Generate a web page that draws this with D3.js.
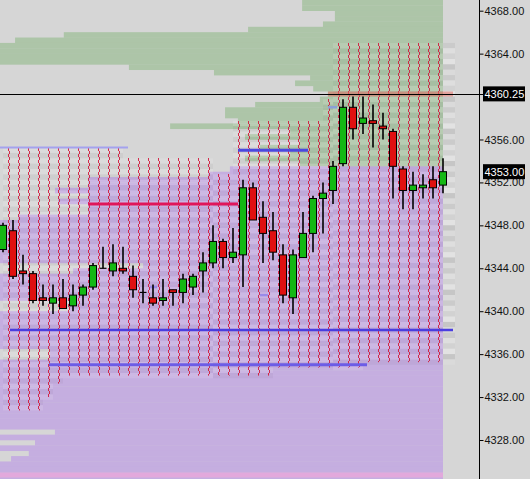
<!DOCTYPE html>
<html><head><meta charset="utf-8">
<script src="https://cdn.jsdelivr.net/npm/d3@7"></script>
<style>body{margin:0;background:#d6d6d6;}svg{display:block}</style>
</head><body><svg id="c" width="530" height="479"></svg>
<script>
// ---------- DATA ----------
const opens  = [4345.75,4347.5,4343.75,4343.5,4341.25,4340.75,4341.25,4340.5,4341.5,4342.25,4344,4343.75,4344,4343.25,4341.75,4341.25,4341,4342,4341.75,4342.25,4343.75,4344.5,4346.5,4345,4345.25,4351.5,4348.75,4347.5,4345.25,4341.25,4345,4347.25,4350.5,4351.25,4353.75,4359,4357.5,4357.75,4357.25,4356.75,4353.25,4351.25,4351.5,4352.25,4351.75];
const highs  = [4348.25,4348.5,4345.25,4343.75,4342.5,4342.5,4343,4342.5,4342.5,4344.5,4346,4346.25,4346,4344.25,4343,4342.5,4343,4342,4343.5,4343.5,4345.5,4348,4346.75,4347.75,4352.25,4352,4350.25,4349.25,4346.25,4345.75,4349.25,4350.75,4352,4354,4359.75,4360,4360,4359.25,4358.5,4357,4353.5,4353,4352.75,4353.5,4354.25];
const lows   = [4345.5,4343,4342.5,4340.75,4340.5,4339.75,4340.25,4340,4340.5,4342,4344,4343.25,4343.5,4341.25,4340.75,4340.5,4340.5,4340.5,4340.75,4341.5,4341.75,4344,4344,4344.5,4342.25,4348.5,4344.5,4344.75,4340.75,4339.75,4345,4345.5,4347.25,4350,4353.5,4356,4356.5,4355.25,4356,4350.5,4349.5,4349.5,4350.5,4350.5,4351];
const closes = [4348,4343.25,4343.5,4341,4341,4341.25,4340.25,4341.5,4342.25,4344.25,4344,4344.5,4343.75,4342,4341.75,4340.75,4341.25,4341.75,4343,4343.25,4344.5,4346.5,4345,4345.5,4351.5,4348.5,4347.25,4345.5,4341.5,4345.25,4347.25,4350.5,4351,4353.5,4359,4357,4358,4357.5,4357,4353.5,4351.25,4351.75,4351.75,4351.5,4353];

// TPO column ranges (one per period)
const tpoTop = [4355.25,4355.25,4355.25,4355.25,4355.25,4355.25,4355.25,4355.25,4355.25,4355.25,4355.25,4355.25,
  4354.25,4354.25,4354.25,4354.25,4354.25,4354.25,4354.25,4354.25,4354.25,4352.75,4352.75,
  4357.75,4357.75,4357.75,4357.75,4357.75,4357.75,4357.75,4357.75,4357.75,4359.75,
  4365,4365,4365,4365,4365,4365,4365,4365,4365,4365,4365];
const tpoBottom = [4330.75,4330.75,4330.75,4330.75,4332,4333.25,
  4334,4334,4334,4334,4334,4334,4334,4334,4334,4334,4334,4334,4334,4334,4334,4334,4334,4334,4334,4334,4334,
  4334.75,4334.75,4334.75,4334.75,4334.75,4334.75,4334.75,4334.75,4334.75,
  4335.25,4335.25,4335.25,4335.25,4335.25,4335.25,4335.25,4335.25];

// Volume profiles (rows of 0.5 point, from the top price downward)
const greenTop = 4369;
const greenVol = [31.8,31.8,24.4,24.4,27.1,44.0,85.6,96.6,105,105,105,105,70.9,51.7,30.0,33.4,29.3,26.0,27.8,42.4,49.2,49.2,46.3,61.6,34.5,44.7,32.3,41.3,34.5,44.7,32.3,25.5];
const purpleTop = 4353.5;
const purpleVol = [48.1,53.0,80.1,80.1,87.6,80.1,86.9,80.1,80.1,95.9,
  105,105,105,105,105,105,105,105, 67.7,83.5, 105,105,105,105,105, 84.2,84.2,
  105,105,105,105,105,105,105, 88.7,88.7,
  105,105,105,105,105,105,105,105,105,105,105,105,105,
  87.6,105,92.1,105,93.5,97.5,105,105,105,105,105];

// Level lines
const lvlPrice = [4355.25,4355,4350,4338.25,4335,4360.25,4359,4342.25,4341.5];
const lvlStart = [-0.4,23.5,8.5,0.7,4.6,32.5,32.5,14.7,25.7];
const lvlEnd   = [12.5,30.5,23.5,45,36.4,45,33.4,15.4,26.5];

const tickValues = [4328,4332,4336,4340,4344,4348,4352,4356,4364,4368];
const lastPrice = 4353.00;
const crossPrice = 4360.25;

// ---------- STYLES ----------
const lvlColor = ['#a4a2ee','#4b48e0','#e0165a','#4a3de0','#6c5ce6','rgba(225,110,100,0.55)','#8aa0d8','#9a8ae8','#9a8ae8'];
const lvlWidth = [2,3,3,2.5,3,5,2.5,2.5,2.5];
const FONT = 'Liberation Sans, Arial, sans-serif';

// ---------- CHART ----------
const svg = d3.select('#c');
const y = d3.scaleLinear().domain([4328, 4368]).range([440, 10.7]);
const x = d3.scaleLinear().domain([0, 44]).range([3, 443]);
const xVol = d3.scaleLinear().domain([0, 100]).range([0, 443]);
const profileRight = x(44);
const rowH = 0.5;

svg.append('rect').attr('width',530).attr('height',479).attr('fill','#d6d6d6');

function drawProfile(top, vols, color) {
  svg.append('g').selectAll('rect').data(vols).join('rect')
    .attr('x', v => profileRight - xVol(v))
    .attr('width', v => xVol(v))
    .attr('y', (v,i) => y(top - i*rowH))
    .attr('height', (v,i) => y(top - (i+1)*rowH) - y(top - i*rowH) + 0.3)
    .attr('fill', color);
}
drawProfile(greenTop, greenVol, '#adc5a8');
drawProfile(purpleTop, purpleVol, '#c5aee0');

// right narrow shaded profile
const shadeRows = d3.range(4365, 4335.25, -0.5);
svg.append('g').selectAll('rect').data(shadeRows).join('rect')
  .attr('x', profileRight).attr('width', x(45.2) - profileRight)
  .attr('y', p => y(p)).attr('height', p => y(p-0.5) - y(p))
  .attr('fill', (p,i) => ['#cbcbcb','#dedede','#d2d2d2','#e2e2e2','#c6c6c6','#dadada'][i%6]);

// TPO stripes and squiggles
const tpoG = svg.append('g');
tpoTop.forEach((t, k) => {
  const b = tpoBottom[k];
  const rows = d3.range(t, b, -0.5);
  tpoG.selectAll(null).data(rows).join('rect')
    .attr('x', x(k)).attr('width', x(k+1) - x(k))
    .attr('y', p => y(p)).attr('height', p => y(p-0.5) - y(p))
    .attr('fill', (p,i) => i%2 ? 'rgba(0,0,0,0.035)' : 'rgba(255,255,255,0.12)');
});
tpoTop.forEach((t, k) => {
  const b = tpoBottom[k];
  const cx = Math.round(x(k) + 5) + 0.5;
  const y0 = Math.round(y(t)), y1 = y(b);
  let d = '';
  let s = 0;
  for (let yy = y0; yy <= y1; yy += 3, s++) {
    const xx = cx + (s % 2);
    d += `M${xx},${yy}V${Math.min(yy + 3, y1)}`;
  }
  tpoG.append('path').attr('d', d)
    .attr('fill','none').attr('stroke','#d21a3c').attr('stroke-width',1).attr('opacity',0.9);
});

// level lines
svg.append('g').selectAll('line').data(lvlPrice).join('line')
  .attr('x1', (p,i) => x(lvlStart[i])).attr('x2', (p,i) => x(lvlEnd[i]))
  .attr('y1', p => y(p)).attr('y2', p => y(p))
  .attr('stroke', (p,i) => lvlColor[i]).attr('stroke-width', (p,i) => lvlWidth[i]);

// pink low line
svg.append('line').attr('x1', 0).attr('x2', profileRight)
  .attr('y1', y(4324.75)).attr('y2', y(4324.75))
  .attr('stroke', '#e2a9dc').attr('stroke-width', 5);

// candles
const cg = svg.append('g');
opens.forEach((o, i) => {
  const c = closes[i], cx = x(i);
  cg.append('line').attr('x1',cx).attr('x2',cx).attr('y1',y(highs[i])).attr('y2',y(lows[i]))
    .attr('stroke','#000').attr('stroke-width',1.6);
  const top = y(Math.max(o,c)), bot = y(Math.min(o,c));
  if (o === c) {
    cg.append('line').attr('x1',cx-3.5).attr('x2',cx+3.5).attr('y1',top).attr('y2',top)
      .attr('stroke','#000').attr('stroke-width',1.2);
  } else {
    cg.append('rect').attr('x',cx-3.5).attr('width',7).attr('y',top).attr('height',Math.max(1,bot-top))
      .attr('fill', c > o ? '#14b814' : '#e01010').attr('stroke','#000').attr('stroke-width',1);
  }
});

// crosshair line
svg.append('line').attr('x1',0).attr('x2',484).attr('y1',Math.round(y(crossPrice))+0.5).attr('y2',Math.round(y(crossPrice))+0.5)
  .attr('stroke','#000').attr('stroke-width',1);

// axis
const axisX = 479.5;
svg.append('line').attr('x1',axisX).attr('x2',axisX).attr('y1',0).attr('y2',479).attr('stroke','#000');
const ax = svg.append('g').attr('transform',`translate(${axisX},0)`)
  .call(d3.axisRight(y).tickValues(tickValues).tickFormat(d3.format('.2f')).tickSize(4).tickPadding(1));
ax.select('.domain').remove();
ax.selectAll('text').attr('font-family',FONT).attr('font-size','11px').attr('fill','#111');
ax.selectAll('line').attr('stroke','#000');

function priceLabel(p) {
  const yy = y(p);
  svg.append('rect').attr('x',483).attr('y',yy-7.5).attr('width',42).attr('height',15).attr('fill','#000');
  svg.append('text').attr('x',484.5).attr('y',yy).attr('dy','0.35em')
    .attr('font-family',FONT).attr('font-size','11px').attr('fill','#fff')
    .text(d3.format('.2f')(p));
}
priceLabel(crossPrice);
priceLabel(lastPrice);
</script></body></html>
